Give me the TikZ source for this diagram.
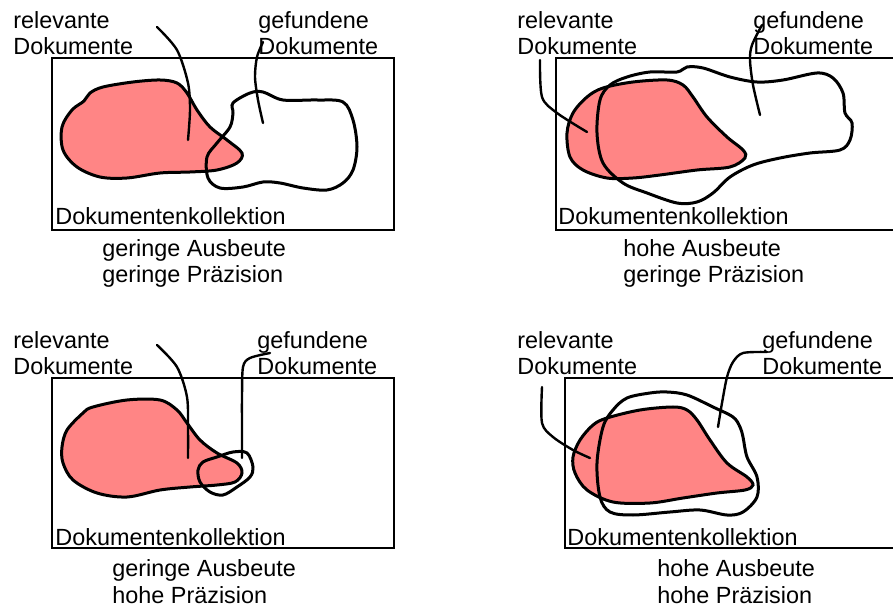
\documentclass[tikz,border=0pt]{standalone}
\usepackage{fontspec}
\setmainfont{Liberation Sans}
\usetikzlibrary{positioning}
\definecolor{relfill}{HTML}{FF8585}

\begin{document}
\begin{tikzpicture}[
    x=0.5pt, y=-0.5pt,
    lbl/.style={inner sep=0pt, anchor=base west, align=left, font=\fontsize{11.7}{13.3}\selectfont},
    collbox/.style={draw=black, line width=1pt},
    relblob/.style={fill=relfill, draw=black, line width=1.5pt},
    gefblob/.style={draw=black, line width=1.5pt},
    leader/.style={draw=black, line width=1.2pt, line cap=round}
]

\useasboundingbox (0,0) rectangle (893,608);
\clip (0,0) rectangle (893,608);

% Top left: geringe Ausbeute, geringe Praezision
\draw[relblob] plot[smooth cycle, tension=0.55] coordinates {(62,127) (72,110) (84,101) (90,93) (103,87) (133,82) (160,80) (177,83) (187,93) (197,110) (210,127) (227,140) (242,153) (237,163) (217,170) (190,172) (160,173) (127,178) (100,177) (77,167) (63,150)};
\draw[gefblob] plot[smooth cycle, tension=0.55] coordinates {(233,103) (250,93) (263,92) (283,100) (317,100) (343,102) (353,120) (357,147) (353,170) (343,183) (327,190) (303,188) (280,183) (263,182) (243,187) (220,188) (208,178) (207,157) (217,143) (230,127) (233,113)};
\draw[leader] plot[smooth] coordinates {(157,27) (177,50) (188,83) (190,110) (188,140)};
\draw[leader] plot[smooth] coordinates {(263,42) (257,57) (255,77) (258,100) (263,123)};
\draw[collbox] (52,58) rectangle (394,230);
\node[lbl] (rel1) at (13,55) {relevante\\Dokumente};
\node[lbl] (gef1) at (258,55) {gefundene\\Dokumente};
\node[lbl] (coll1) at (55,225) {Dokumentenkollektion};
\node[lbl] (sub1) at (102,283) {geringe Ausbeute\\geringe Präzision};

% Top right: hohe Ausbeute, geringe Praezision
\draw[relblob] plot[smooth cycle, tension=0.55] coordinates {(567,133) (573,113) (587,97) (603,88) (633,82) (667,80) (683,85) (693,97) (707,117) (727,137) (743,150) (745,158) (730,167) (697,170) (660,175) (633,178) (607,178) (583,170) (570,157)};
\draw[gefblob] plot[smooth cycle, tension=0.55] coordinates {(597,133) (600,100) (610,85) (627,77) (650,72) (677,72) (687,67) (703,68) (730,77) (757,82) (783,80) (817,73) (833,78) (843,93) (845,113) (852,123) (850,140) (840,150) (810,153) (780,158) (753,165) (730,177) (713,193) (697,202) (677,203) (647,193) (623,183) (603,163)};
\draw[leader] plot[smooth] coordinates {(540,60) (542,97) (557,113) (587,132)};
\draw[leader] plot[smooth] coordinates {(762,25) (752,45) (750,60) (753,85) (760,115)};
\draw[collbox] (556,58) rectangle (900,230);
\node[lbl] (rel2) at (517,55) {relevante\\Dokumente};
\node[lbl] (gef2) at (753,55) {gefundene\\Dokumente};
\node[lbl] (coll2) at (558,225) {Dokumentenkollektion};
\node[lbl] (sub2) at (623,283) {hohe Ausbeute\\geringe Präzision};

% Bottom left: geringe Ausbeute, hohe Praezision
\draw[relblob] plot[smooth cycle, tension=0.55] coordinates {(62,447) (67,430) (83,413) (93,407) (127,400) (160,400) (177,410) (187,423) (200,440) (217,453) (237,463) (242,473) (235,482) (217,485) (190,487) (160,490) (127,497) (97,493) (73,480) (63,463)};
\draw[gefblob] plot[smooth cycle, tension=0.55] coordinates {(198,470) (203,462) (217,457) (233,452) (247,453) (253,467) (250,477) (237,487) (223,495) (210,492) (200,482)};
\draw[leader] plot[smooth] coordinates {(157,345) (177,367) (187,397) (188,430) (188,458)};
\draw[leader] plot[smooth] coordinates {(270,353) (250,358) (243,367) (242,397) (242,430) (242,458)};
\draw[collbox] (52,378) rectangle (394,548);
\node[lbl] (rel3) at (13,375) {relevante\\Dokumente};
\node[lbl] (gef3) at (257,375) {gefundene\\Dokumente};
\node[lbl] (coll3) at (55,545) {Dokumentenkollektion};
\node[lbl] (sub3) at (112,603) {geringe Ausbeute\\hohe Präzision};

% Bottom right: hohe Ausbeute, hohe Praezision
\draw[relblob] plot[smooth cycle, tension=0.55] coordinates {(573,457) (580,440) (593,425) (607,418) (640,410) (673,407) (687,410) (697,420) (710,440) (727,463) (747,477) (753,485) (745,490) (717,493) (683,498) (650,503) (613,502) (587,490) (575,473)};
\draw[gefblob] plot[smooth cycle, tension=0.55] coordinates {(650,393) (627,398) (613,410) (603,427) (597,463) (600,497) (610,512) (633,515) (670,512) (700,510) (727,515) (743,512) (757,497) (757,477) (747,457) (743,437) (740,427) (733,417) (713,407) (687,395) (667,392)};
\draw[leader] plot[smooth] coordinates {(542,387) (542,423) (553,437) (573,450) (590,458)};
\draw[leader] plot[smooth] coordinates {(767,352) (743,353) (733,362) (727,377) (722,403) (718,427)};
\draw[collbox] (565,378) rectangle (900,548);
\node[lbl] (rel4) at (517,375) {relevante\\Dokumente};
\node[lbl] (gef4) at (762,375) {gefundene\\Dokumente};
\node[lbl] (coll4) at (567,545) {Dokumentenkollektion};
\node[lbl] (sub4) at (657,603) {hohe Ausbeute\\hohe Präzision};

\end{tikzpicture}
\end{document}
